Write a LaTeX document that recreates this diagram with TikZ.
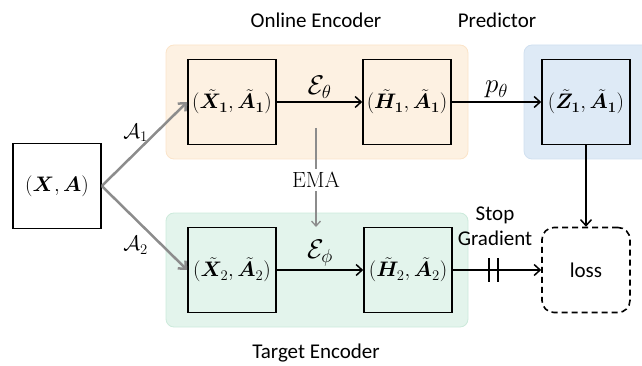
\RequirePackage{fix-cm}
\documentclass[tikz,border=0pt]{standalone}
\usepackage{fontspec}
\setsansfont{Carlito}
\usepackage{amsmath, bm}
\usetikzlibrary{arrows.meta, calc}
\definecolor{onlineorange}{RGB}{253, 241, 226}
\definecolor{onlineedge}{RGB}{251, 228, 201}
\definecolor{predblue}{RGB}{222, 234, 246}
\definecolor{prededge}{RGB}{208, 224, 240}
\definecolor{targetgreen}{RGB}{227, 244, 236}
\definecolor{targetedge}{RGB}{204, 234, 219}
\definecolor{augray}{RGB}{140, 140, 140}

\begin{document}
\begin{tikzpicture}[x=1pt, y=-1pt,
  panel/.style={rounded corners=8pt, line width=0.8pt},
  statebox/.style={draw, line width=1.6pt, minimum width=88pt, minimum height=85pt, inner sep=0pt, font=\fontsize{21}{25}\selectfont},
  flow/.style={-{Straight Barb[length=6pt, width=11pt]}, line width=1.5pt},
  aug/.style={-{Straight Barb[length=6pt, width=11pt]}, draw=augray, line width=2.5pt},
  emaline/.style={draw=augray, line width=1.3pt},
  caption/.style={font=\sffamily\fontsize{21}{25}\selectfont},
  mathlabel/.style={font=\fontsize{27}{31}\selectfont, inner sep=1pt}
]
  \useasboundingbox (0,0) rectangle (642,366);

  % coloured panels
  \draw[panel, fill=onlineorange, draw=onlineedge] (166,45) rectangle (468,159);
  \draw[panel, fill=predblue, draw=prededge] (524,45) rectangle (660,159);
  \draw[panel, fill=targetgreen, draw=targetedge] (166,213) rectangle (468,327);

  \node[caption] (online) at (316,20) {Online Encoder};
  \node[caption] (pred) at (497,20) {Predictor};
  \node[caption] (target) at (316,353) {Target Encoder};

  % states
  \node[statebox] (xa) at (57,186) {$(\bm{X},\bm{A})$};
  \node[statebox] (x1) at (232,102) {$(\tilde{\bm{X}}_{\bm{1}},\tilde{\bm{A}}_{\bm{1}})$};
  \node[statebox] (h1) at (407,102) {$(\tilde{\bm{H}}_{\bm{1}},\tilde{\bm{A}}_{\bm{1}})$};
  \node[statebox] (z1) at (586,102) {$(\tilde{\bm{Z}}_{\bm{1}},\tilde{\bm{A}}_{\bm{1}})$};
  \node[statebox] (x2) at (232,270) {$(\tilde{\bm{X}}_2,\tilde{\bm{A}}_2)$};
  \node[statebox] (h2) at (408,270) {$(\tilde{\bm{H}}_2,\tilde{\bm{A}}_2)$};
  \node[statebox, dashed, dash pattern=on 6pt off 4pt, rounded corners=12pt, font=\sffamily\fontsize{21}{25}\selectfont] (loss) at (586,270) {loss};

  % augmentations
  \draw[aug] (xa.east) -- (x1.west) node[midway, above left, font=\fontsize{21}{25}\selectfont, xshift=8pt, yshift=-2pt] {$\mathcal{A}_1$};
  \draw[aug] (xa.east) -- (x2.west) node[midway, below left, font=\fontsize{21}{25}\selectfont, xshift=8pt, yshift=-4pt] {$\mathcal{A}_2$};

  % encoders and predictor
  \draw[flow] (x1) -- (h1) node[midway, above, mathlabel, yshift=2pt] {$\mathcal{E}_\theta$};
  \draw[flow] (h1) -- (z1) node[midway, above, mathlabel, yshift=2pt] {$p_\theta$};
  \draw[flow] (x2) -- (h2) node[midway, above, mathlabel, yshift=2pt] {$\mathcal{E}_\phi$};
  \draw[flow] (z1) -- (loss);
  \draw[flow] (h2) -- (loss);

  % stop gradient
  \draw[line width=1.5pt] ($(h2.east)!0.41!(loss.west)+(0,-12)$) -- ++(0,24);
  \draw[line width=1.5pt] ($(h2.east)!0.51!(loss.west)+(0,-12)$) -- ++(0,24);
  \node[caption, align=center] (stopgrad) at (495,226) {Stop\\Gradient};

  % EMA
  \coordinate (emastart) at (316,128);
  \coordinate (emaend) at (316,227);
  \node[font=\fontsize{22}{26}\selectfont] (ema) at (316,180) {EMA};
  \draw[emaline] (emastart) -- (ema);
  \draw[emaline, -{Straight Barb[length=5pt, width=9pt]}] (ema) -- (emaend);
\end{tikzpicture}
\end{document}
